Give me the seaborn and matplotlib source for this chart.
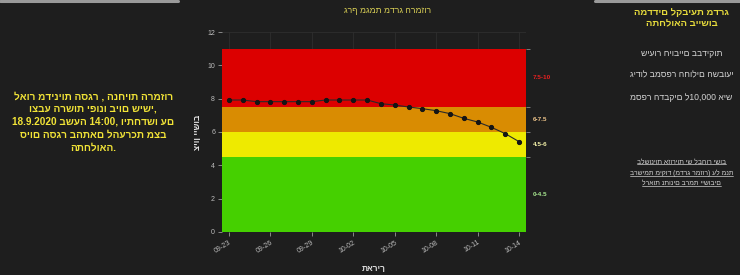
import numpy as np
import pandas as pd
import matplotlib
matplotlib.use("Agg")
import matplotlib.pyplot as plt
from matplotlib.lines import Line2D
import seaborn as sns

# ---------------- data ----------------
dates = pd.date_range("2020-09-23", "2020-10-14", freq="D")
scores = [7.92, 7.92, 7.82, 7.82, 7.82, 7.82, 7.82, 7.92, 7.92, 7.92, 7.92,
          7.70, 7.62, 7.50, 7.40, 7.28, 7.10, 6.82, 6.60, 6.28, 5.90, 5.42]
band_edges = [0, 4.5, 6, 7.5, 11]
band_colors = ["#45d000", "#eeea00", "#d98c02", "#dc0000"]
band_labels = ["0-4.5", "4.5-6", "6-7.5", "7.5-10"]
band_label_colors = ["#a8e890", "#f2f0a8", "#eec48a", "#e82020"]
y_ticks = [0, 2, 4, 6, 8, 10, 12]

chart_title = "גרף מגמת מדרג הרמזור"
x_title = "תאריך"
y_title = "ציון יישוב"
left_lines = ["לאור מדיניות הסגר , הנחיות הרמזור",
              "וצבע הרשות יפונו ביום שישי,",
              "18.9.2020 בשעה 14:00, ויתחדשו עם",
              "סיום הסגר בהתאם להערכת מצב",
              "התחלואה."]
right_title = ["המדדים לקביעת מדרג", "התחלואה ביישוב"]
right_items = ["שיעור חיוביים בבדיקות",
               "גידול במספר החולים השבועי",
               "מספר הדבקים ל10,000 איש"]
right_link = ["בלשוניות אזוריות יש לבחור ישוב",
              "ברשימת מיקוד (מדרג רמזור) על מנת",
              "לראות נתונים ברמת יישובים"]

# ------------- style -------------
BG = "#1e1e1e"
sns.set_theme(style="dark")
plt.rcParams["font.family"] = ["Liberation Sans", "DejaVu Sans"]
plt.rcParams["axes.facecolor"] = BG
plt.rcParams["figure.facecolor"] = BG

fig = plt.figure(figsize=(7.4, 2.75), dpi=100)
ax = fig.add_axes([0.300, 0.1564, 0.4108, 0.7272])
ax.set_facecolor(BG)

ax.set_axisbelow(True)
ax.grid(True, color="#2e2e2e", linewidth=0.6)

for lo, hi, c in zip(band_edges[:-1], band_edges[1:], band_colors):
    ax.axhspan(lo, hi, color=c, zorder=1, linewidth=0)

df = pd.DataFrame({"date": dates, "score": scores})
sns.lineplot(data=df, x="date", y="score", ax=ax, color="#2a2a2a",
             linewidth=0.8, marker="o", markersize=3.0,
             markeredgecolor="#151515", markerfacecolor="#151515", zorder=3)

ax.set_xlim(dates[0] - pd.Timedelta(hours=12), dates[-1] + pd.Timedelta(hours=12))
ax.set_ylim(0, 12)
ax.set_yticks(y_ticks)
ax.set_yticklabels([str(t) for t in y_ticks])
xt = dates[::3]
ax.set_xticks(xt)
ax.set_xticklabels([d.strftime("%m-%d") for d in xt], rotation=32,
                   ha="right", rotation_mode="anchor")
ax.tick_params(axis="both", colors="#9a9a9a", labelsize=5, length=3,
               width=0.6, pad=2, labelcolor="#bdbdbd")
ax.tick_params(axis="both", which="both", left=True, bottom=True)
for sp in ax.spines.values():
    sp.set_visible(False)

ax.set_xlabel(x_title, color="#e0e0e0", fontsize=6, fontweight="bold",
              labelpad=8)
ax.set_ylabel(y_title, color="#e8e8e8", fontsize=6, fontweight="bold",
              labelpad=4)
ax.set_title(chart_title, color="#d9cf55", fontsize=6.2, pad=14, x=0.543)

for lo, hi, lab, c in zip(band_edges[:-1], band_edges[1:], band_labels,
                          band_label_colors):
    ax.text(1.022, (lo + hi) / 2, lab, transform=ax.get_yaxis_transform(),
            color=c, fontsize=4.6, fontweight="bold", va="center", ha="left")
sec = ax.secondary_yaxis("right")
sec.set_yticks(band_edges[1:])
sec.set_yticklabels([])
sec.tick_params(colors="#8a8a8a", length=3, width=0.6)
for sp in sec.spines.values():
    sp.set_visible(False)

# ------------- side panels -------------
left_y = [0.648, 0.604, 0.557, 0.511, 0.464]
for t, yy in zip(left_lines, left_y):
    fig.text(0.126, yy, t, color="#f2e437", fontsize=7.2,
             fontweight="bold", ha="center", va="center")

fig.text(0.921, 0.956, right_title[0], color="#e6db3c", fontsize=6.8,
         fontweight="bold", ha="center", va="center")
fig.text(0.921, 0.913, right_title[1], color="#e6db3c", fontsize=6.8,
         fontweight="bold", ha="center", va="center")
for t, yy in zip(right_items, [0.807, 0.727, 0.647]):
    fig.text(0.921, yy, t, color="#d4d4d4", fontsize=6.2,
             ha="center", va="center")

link_texts = []
for t, yy in zip(right_link, [0.411, 0.371, 0.334]):
    link_texts.append(fig.text(0.921, yy, t, color="#cfcfcf", fontsize=4.9,
                               ha="center", va="center"))
fig.canvas.draw()
rend = fig.canvas.get_renderer()
inv = fig.transFigure.inverted()
for t in link_texts:
    bb = t.get_window_extent(rend).transformed(inv)
    fig.add_artist(Line2D([bb.x0, bb.x1], [bb.y0 + 0.004, bb.y0 + 0.004],
                          color="#cfcfcf", lw=0.5))

fig.add_artist(Line2D([0, 0.241], [0.995, 0.995], color="#9a9a9a", lw=2.2))
fig.add_artist(Line2D([0.804, 1.0], [0.995, 0.995], color="#9a9a9a", lw=2.2))

fig.savefig("out.png", dpi=100, facecolor=BG)
